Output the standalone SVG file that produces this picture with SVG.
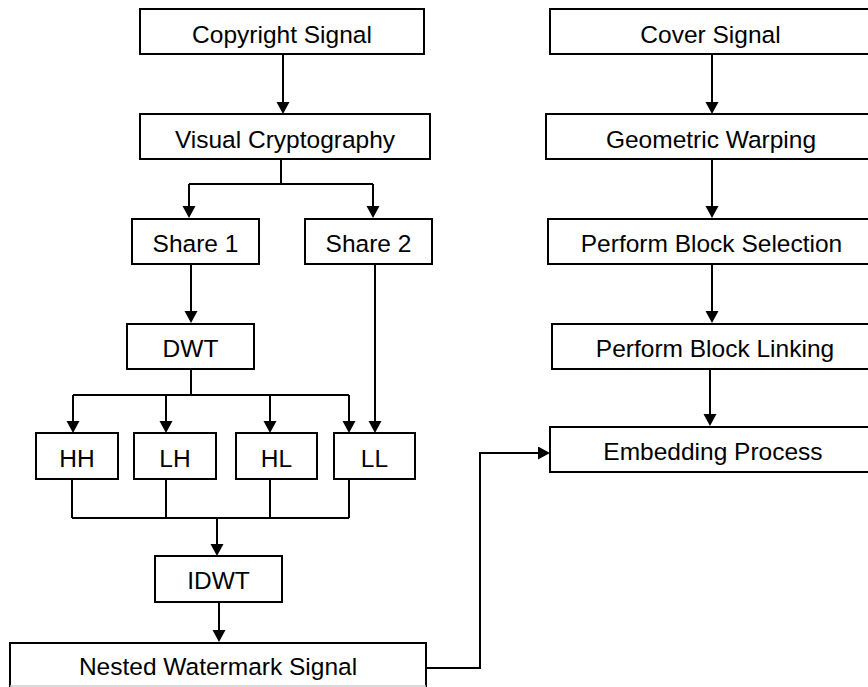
<svg xmlns="http://www.w3.org/2000/svg" width="868" height="687" viewBox="0 0 868 687">
<defs>
<marker id="ah" markerUnits="userSpaceOnUse" markerWidth="14" markerHeight="14" refX="0" refY="6.5" orient="auto">
<path d="M0,0 L12,6.5 L0,13 z" fill="#000"/>
</marker>
</defs>
<style>
.box{fill:#fff;stroke:#000;stroke-width:2}
.t{font-family:"Liberation Sans",Arial,sans-serif;font-size:24.5px;fill:#000;text-anchor:middle}
.c{fill:none;stroke:#000;stroke-width:2}
.a{fill:none;stroke:#000;stroke-width:2;marker-end:url(#ah)}
</style>
<rect width="868" height="687" fill="#fff"/>
<g id="connectors">
<path class="a" d="M283,54 V102"/>
<path class="c" d="M281,159 V184 M189,184 H373"/>
<path class="a" d="M189,184 V206"/>
<path class="a" d="M373,184 V206"/>
<path class="a" d="M191,264 V311"/>
<path class="c" d="M191,369 V395 M73,395 H349"/>
<path class="a" d="M73,395 V421"/>
<path class="a" d="M166,395 V421"/>
<path class="a" d="M270,395 V421"/>
<path class="a" d="M349,395 V421"/>
<path class="a" d="M375,264 V421"/>
<path class="c" d="M72,479 V518 M166,479 V518 M270,479 V518 M349,479 V518 M72,518 H349"/>
<path class="a" d="M217,518 V544"/>
<path class="a" d="M219,602 V630"/>
<path class="a" d="M423,668 H480 V453 H538"/>
<path class="a" d="M712,54 V102"/>
<path class="a" d="M712,159 V206"/>
<path class="a" d="M712,264 V311"/>
<path class="a" d="M710,369 V414"/>
</g>
<g id="copyright"><rect class="box" x="140" y="9" width="284" height="45"/><text class="t" x="282" y="43">Copyright Signal</text></g>
<g id="visual"><rect class="box" x="140" y="114" width="290" height="45"/><text class="t" x="285" y="148">Visual Cryptography</text></g>
<g id="share1"><rect class="box" x="132" y="219" width="127" height="45"/><text class="t" x="195.5" y="252">Share 1</text></g>
<g id="share2"><rect class="box" x="305" y="219" width="127" height="45"/><text class="t" x="368.5" y="252">Share 2</text></g>
<g id="dwt"><rect class="box" x="127" y="324" width="127" height="45"/><text class="t" x="190.5" y="357">DWT</text></g>
<g id="hh"><rect class="box" x="36" y="433" width="82" height="46"/><text class="t" x="77" y="467">HH</text></g>
<g id="lh"><rect class="box" x="134" y="433" width="82" height="46"/><text class="t" x="175" y="467">LH</text></g>
<g id="hl"><rect class="box" x="236" y="433" width="81" height="46"/><text class="t" x="276.5" y="467">HL</text></g>
<g id="ll"><rect class="box" x="334" y="433" width="81" height="46"/><text class="t" x="374.5" y="467">LL</text></g>
<g id="idwt"><rect class="box" x="155" y="556" width="127" height="46"/><text class="t" x="218.5" y="589">IDWT</text></g>
<g id="nested"><rect x="10" y="643" width="416" height="43" fill="#fff"/><path class="c" d="M10,687 V643 H426 V687"/><path d="M10,686 H426" stroke="#ccc" stroke-width="1.5"/><text class="t" x="218" y="675">Nested Watermark Signal</text></g>
<g id="cover"><rect class="box" x="550" y="9" width="330" height="45"/><text class="t" x="710.5" y="43">Cover Signal</text></g>
<g id="geometric"><rect class="box" x="546" y="114" width="334" height="45"/><text class="t" x="711" y="148">Geometric Warping</text></g>
<g id="selection"><rect class="box" x="548" y="219" width="332" height="45"/><text class="t" x="711.5" y="252">Perform Block Selection</text></g>
<g id="linking"><rect class="box" x="552" y="324" width="328" height="45"/><text class="t" x="715" y="357">Perform Block Linking</text></g>
<g id="embedding"><rect class="box" x="550" y="427" width="330" height="45"/><text class="t" x="713" y="460">Embedding Process</text></g>
</svg>
